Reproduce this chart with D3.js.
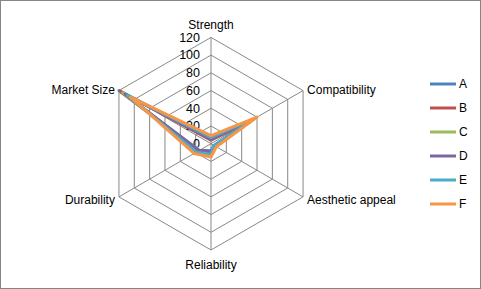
<!DOCTYPE html>
<html><head><meta charset="utf-8">
<script src="https://cdn.jsdelivr.net/npm/d3@7"></script>
<style>body{margin:0;background:#fff}text{font-family:"Liberation Sans",Arial,sans-serif;}</style>
</head><body>
<svg id="c" width="481" height="289"></svg>
<script>
const axes = ["Strength","Compatibility","Aesthetic appeal","Reliability","Durability","Market Size"];
const seriesNames = ["A","B","C","D","E","F"];
const colors = ["#4F81BD","#C0504D","#9BBB59","#8064A2","#4BACC6","#F79646"];
const A = [5, 55, 4, 8, 15, 120];
const B = [4, 52, 6, 9, 16, 118];
const C = [6, 54, 5, 10, 17, 115];
const D = [5, 53, 6, 9, 16, 112];
const E = [7, 57, 4, 12, 19, 109];
const F = [9, 60, 7, 15, 22, 105];
const values = [A,B,C,D,E,F];
const ticks = [0,20,40,60,80,100,120];

const svg = d3.select("#c");
svg.append("rect").attr("x",0.5).attr("y",0.5).attr("width",480).attr("height",288)
  .attr("fill","#fff").attr("stroke","#868686");

const cx = 211, cy = 143.7, R = 106.3;
const r = d3.scaleLinear().domain([0,120]).range([0,R]);
const ang = d3.scalePoint().domain(axes).range([0, 2*Math.PI*5/6]);
const pt = (a, v) => [cx + r(v)*Math.sin(ang(a)), cy - r(v)*Math.cos(ang(a))];

const g = svg.append("g");
ticks.slice(1).forEach(t => {
  g.append("path").attr("d", d3.line()(axes.map(a => pt(a,t))) + "Z")
   .attr("fill","none").attr("stroke","#888").attr("stroke-width",1);
});
axes.forEach(a => {
  const p = pt(a,120);
  g.append("line").attr("x1",cx).attr("y1",cy).attr("x2",p[0]).attr("y2",p[1])
   .attr("stroke","#888").attr("stroke-width",1);
});
ticks.forEach(t => {
  g.append("text").attr("x",200).attr("y",cy - r(t)).attr("dy","0.35em")
   .attr("text-anchor","end").attr("font-size",12.5).attr("fill","#000").text(t);
});
axes.forEach(a => {
  const p = pt(a,120);
  const s = Math.sin(ang(a)), c = Math.cos(ang(a));
  let anchor = Math.abs(s) < 0.01 ? "middle" : (s > 0 ? "start" : "end");
  let dx = Math.abs(s) < 0.01 ? 0 : (s > 0 ? 4 : -4);
  let dy = Math.abs(s) < 0.01 ? (c > 0 ? -13 : 15) : (c > 0 ? -1 : 3);
  g.append("text").attr("x",p[0]+dx).attr("y",p[1]+dy).attr("dy","0.35em")
   .attr("text-anchor",anchor).attr("font-size",12).attr("fill","#000").text(a);
});
values.forEach((vals,i) => {
  g.append("path").attr("d", d3.line()(axes.map((a,j) => pt(a, vals[j]))) + "Z")
   .attr("fill","none").attr("stroke",colors[i]).attr("stroke-width",3)
   .attr("stroke-linejoin","round");
});
const ly = d3.scalePoint().domain(seriesNames).range([84, 204]);
seriesNames.forEach((n,i) => {
  svg.append("line").attr("x1",430).attr("x2",456).attr("y1",ly(n)).attr("y2",ly(n))
    .attr("stroke",colors[i]).attr("stroke-width",3);
  svg.append("text").attr("x",459).attr("y",ly(n)).attr("dy","0.35em")
    .attr("font-size",12).attr("fill","#000").text(n);
});
</script>
</body></html>
